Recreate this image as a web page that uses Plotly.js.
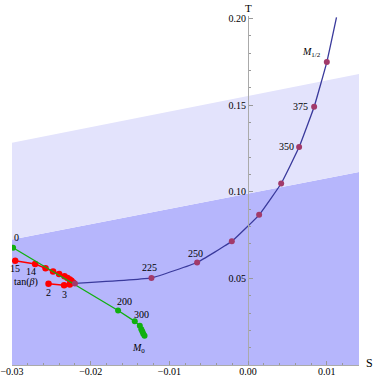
<!DOCTYPE html>
<html>
<head>
<meta charset="utf-8">
<script src="https://cdn.plot.ly/plotly-3.0.1.min.js"></script>
<style>
  html, body { margin: 0; padding: 0; background: #fff; }
  #chart { width: 374px; height: 376px; }
</style>
</head>
<body>
<div id="chart"></div>
<script>
// shaded bands (boundary lines at the two ends of the S range)
const bandS = [-0.03, 0.01409];
const lowerT = [0.0725, 0.1115];
const upperT = [0.1283, 0.168];

// blue curve, last point has no marker
const blueS = [-0.0220, -0.01228, -0.00648, -0.00207, 0.0014, 0.0042, 0.00648, 0.00839, 0.0100, 0.01123];
const blueT = [0.0471, 0.0503, 0.0592, 0.0714, 0.0867, 0.1048, 0.1258, 0.1491, 0.1749, 0.2007];
const blueLabels = ['', '225', '250', '', '', '', '350', '375', '<i>M</i><sub>1/2</sub>', ''];

// red series, tan(beta) = 2 ... 15
const redS = [-0.02536, -0.02338, -0.02266, -0.02224, -0.02245, -0.02266, -0.02295, -0.02333, -0.02401, -0.02478, -0.02574, -0.02706, -0.02960];
const redT = [0.0469, 0.0461, 0.0465, 0.0477, 0.0486, 0.0494, 0.0503, 0.0513, 0.0525, 0.0540, 0.0558, 0.0583, 0.0602];

// green series
const greenS = [-0.02986, -0.01652, -0.0144, -0.01376, -0.01357, -0.01344, -0.01332, -0.01316];
const greenT = [0.0677, 0.0315, 0.0252, 0.0226, 0.0207, 0.0193, 0.0181, 0.0169];

const xTicks = [-0.03, -0.02, -0.01, 0.00, 0.01];
const yTicks = [0.05, 0.10, 0.15, 0.20];

const serif = 'Liberation Serif, Times New Roman, serif';

var traces = [];

// dark region under lower line
traces.push({
    x: [bandS[0], bandS[0], bandS[1], bandS[1]],
    y: [0, lowerT[0], lowerT[1], 0],
    mode: 'lines', fill: 'toself',
    fillcolor: 'rgb(182,182,252)', line: {width: 0}, hoverinfo: 'skip'
});
// light band between lower and upper line
traces.push({
    x: [bandS[0], bandS[0], bandS[1], bandS[1]],
    y: [lowerT[0], upperT[0], upperT[1], lowerT[1]],
    mode: 'lines', fill: 'toself',
    fillcolor: 'rgb(227,227,252)', line: {width: 0}, hoverinfo: 'skip'
});

traces.push({
    x: redS, y: redT, mode: 'lines+markers', type: 'scatter',
    line: {color: '#ff0000', width: 1.5},
    marker: {color: '#ff0000', size: 6.5}
});

traces.push({
    x: greenS, y: greenT, mode: 'lines+markers', type: 'scatter',
    line: {color: '#10b010', width: 1.3},
    marker: {color: '#10b010', size: 6}
});

traces.push({
    x: blueS, y: blueT, mode: 'lines', type: 'scatter',
    line: {color: '#3a3a9c', width: 1.3, shape: 'spline', smoothing: 0.3}
});
traces.push({
    x: blueS.slice(0, 9), y: blueT.slice(0, 9), mode: 'markers', type: 'scatter',
    marker: {color: '#a23a6a', size: 6}
});

var annotations = [];
function lab(x, y, text, xs, ys, xa) {
    annotations.push({
        x: x, y: y, xref: 'x', yref: 'y', text: text, showarrow: false,
        xshift: xs, yshift: ys, xanchor: xa || 'center',
        font: {family: serif, size: 10, color: '#000'}
    });
}

lab(greenS[0], greenT[0], '0', 3, 10);
lab(greenS[1], greenT[1], '200', 6, 9);
lab(greenS[2], greenT[2], '300', 7, 7);
lab(greenS[7], greenT[7], '<i>M</i><sub>0</sub>', -6, -13);

lab(redS[12], redT[12], '15', 0, -8);
lab(redS[11], redT[11], '14', -4, -7);
lab(redS[12], redT[12], 'tan(<i>β</i>)', 11, -21);
lab(redS[0], redT[0], '2', 0, -9);
lab(redS[1], redT[1], '3', 0, -9);

lab(blueS[1], blueT[1], blueLabels[1], -2, 10);
lab(blueS[2], blueT[2], blueLabels[2], -2, 9);
lab(blueS[6], blueT[6], blueLabels[6], -3, 1, 'right');
lab(blueS[7], blueT[7], blueLabels[7], -4, 0, 'right');
lab(blueS[8], blueT[8], blueLabels[8], -4, 10, 'right');

// axis names
annotations.push({
    x: 0, y: 1, xref: 'x', yref: 'paper', text: 'T', showarrow: false,
    yanchor: 'bottom', yshift: 0, font: {family: serif, size: 11, color: '#000'}
});
annotations.push({
    x: 1, y: 0, xref: 'paper', yref: 'y', text: 'S', showarrow: false,
    xanchor: 'left', xshift: 5, yshift: 2, font: {family: serif, size: 12, color: '#000'}
});

var layout = {
    width: 374, height: 376,
    margin: {l: 12, r: 15, t: 16, b: 11},
    showlegend: false,
    paper_bgcolor: '#fff', plot_bgcolor: '#fff',
    font: {family: serif, size: 10, color: '#000'},
    xaxis: {
        range: [-0.03, 0.01409],
        tickvals: xTicks, tickformat: '.2f',
        ticks: 'inside', ticklen: 4, tickcolor: '#999',
        ticklabelstandoff: -3,
        minor: {dtick: 0.002, tick0: -0.03, ticks: 'inside', ticklen: 2, tickcolor: '#999', showgrid: false},
        showline: true, linecolor: '#aaa', linewidth: 1,
        showgrid: false, zeroline: false,
        tickfont: {family: serif, size: 10}
    },
    yaxis: {
        range: [0, 0.2015],
        anchor: 'free', position: 0.03 / 0.04409,
        tickvals: yTicks, tickformat: '.2f',
        ticks: 'inside', ticklen: 4, tickcolor: '#999',
        minor: {dtick: 0.01, tick0: 0, ticks: 'inside', ticklen: 2, tickcolor: '#999', showgrid: false},
        showline: true, linecolor: '#aaa', linewidth: 1,
        showgrid: false, zeroline: false,
        tickfont: {family: serif, size: 10}
    },
    annotations: annotations
};

Plotly.newPlot('chart', traces, layout, {displayModeBar: false, staticPlot: true});
</script>
</body>
</html>
